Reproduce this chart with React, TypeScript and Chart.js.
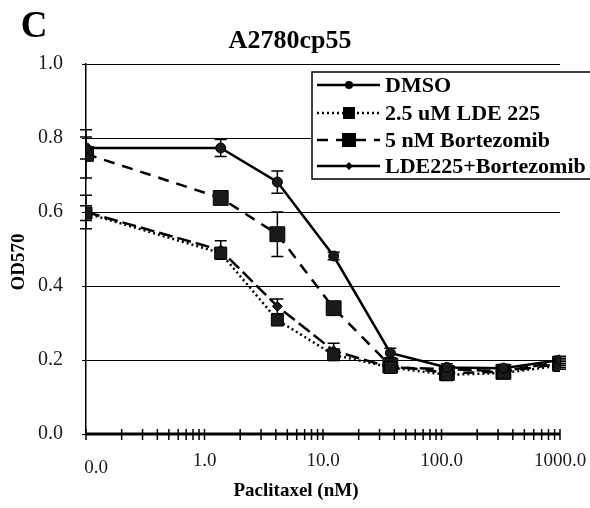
import React, { useEffect, useRef } from "react";
import { Chart, registerables } from "chart.js";

Chart.register(...registerables);

const doses = [0.1, 1.37, 4.12, 12.3, 37, 111, 333, 1000];

const seriesNames = ["DMSO", "2.5 uM LDE 225", "5 nM Bortezomib", "LDE225+Bortezomib"];

const dmso = [0.773, 0.773, 0.681, 0.481, 0.219, 0.18, 0.178, 0.2];
const lde225 = [0.597, 0.489, 0.308, 0.214, 0.18, 0.16, 0.165, 0.185];
const bortezomib = [0.757, 0.638, 0.54, 0.34, 0.185, 0.165, 0.168, 0.19];
const combo = [0.6, 0.497, 0.345, 0.225, 0.18, 0.175, 0.17, 0.195];

const dmsoErr = [0.03, 0.023, 0.03, 0.01, 0.013, 0.01, 0.01, 0.01];
const lde225Err = [0.02, 0.01, 0.01, 0.01, 0.01, 0.01, 0.01, 0.01];
const bortezomibErr = [0.065, 0.01, 0.06, 0.01, 0.01, 0.01, 0.01, 0.01];
const comboErr = [0.045, 0.025, 0.02, 0.02, 0.01, 0.01, 0.01, 0.01];

const xMajor = [0.1, 1, 10, 100, 1000];
const xTickLabels = ["0.0", "1.0", "10.0", "100.0", "1000.0"];

const chartTitle = "A2780cp55";
const panelLetter = "C";
const yTitle = "OD570";
const xTitle = "Paclitaxel (nM)";

const SERIF = "'Liberation Serif', 'Times New Roman', serif";

const styles = [
  { dash: [] as number[], width: 2.5, point: "circle", radius: 5 },
  { dash: [2, 3], width: 2.5, point: "rect", radius: 8.5 },
  { dash: [11, 8], width: 2.5, point: "rect", radius: 10.5 },
  { dash: [14, 5], width: 2.5, point: "rectRot", radius: 5 },
];

const allValues = [dmso, lde225, bortezomib, combo];
const allErrs = [dmsoErr, lde225Err, bortezomibErr, comboErr];

const errorBarPlugin = {
  id: "errorBars",
  beforeDatasetsDraw(chart: any) {
    const ctx = chart.ctx;
    const xs = chart.scales.x;
    const ys = chart.scales.y;
    ctx.save();
    ctx.strokeStyle = "#000";
    ctx.lineWidth = 1.5;
    ctx.setLineDash([]);
    allValues.forEach((vals, i) => {
      vals.forEach((v, j) => {
        const e = allErrs[i][j];
        const x = xs.getPixelForValue(doses[j]);
        const yH = ys.getPixelForValue(v + e);
        const yL = ys.getPixelForValue(v - e);
        ctx.beginPath();
        ctx.moveTo(x, yH);
        ctx.lineTo(x, yL);
        ctx.moveTo(x - 6, yH);
        ctx.lineTo(x + 6, yH);
        ctx.moveTo(x - 6, yL);
        ctx.lineTo(x + 6, yL);
        ctx.stroke();
      });
    });
    ctx.restore();
  },
};

const decorPlugin = {
  id: "decor",
  afterDraw(chart: any) {
    const ctx = chart.ctx;
    const xs = chart.scales.x;
    const area = chart.chartArea;
    ctx.save();
    ctx.strokeStyle = "#000";
    ctx.lineWidth = 3;
    ctx.setLineDash([]);
    ctx.beginPath();
    ctx.moveTo(area.left, area.bottom);
    ctx.lineTo(area.right, area.bottom);
    ctx.stroke();
    ctx.lineWidth = 1.5;
    const ticks: number[] = [];
    for (let k = 0; k < xMajor.length; k++) {
      ticks.push(xMajor[k]);
      if (k < xMajor.length - 1) {
        for (let m = 2; m <= 9; m++) ticks.push(xMajor[k] * m);
      }
    }
    ticks.forEach((t) => {
      const x = xs.getPixelForValue(t);
      ctx.beginPath();
      ctx.moveTo(x, area.bottom - 5);
      ctx.lineTo(x, area.bottom + 6);
      ctx.stroke();
    });
    ctx.fillStyle = "#1a1a1a";
    ctx.font = `19px ${SERIF}`;
    ctx.textAlign = "center";
    ctx.textBaseline = "middle";
    xMajor.forEach((v, i) => {
      const x = xs.getPixelForValue(v);
      if (i === 0) ctx.fillText(xTickLabels[i], x + 10, area.bottom + 34);
      else ctx.fillText(xTickLabels[i], x, area.bottom + 27);
    });
    ctx.fillStyle = "#000";
    ctx.font = `bold 19px ${SERIF}`;
    ctx.fillText(xTitle, 296, 491);
    ctx.save();
    ctx.translate(19, 262);
    ctx.rotate(-Math.PI / 2);
    ctx.fillText(yTitle, 0, 0);
    ctx.restore();
    ctx.font = `bold 26px ${SERIF}`;
    ctx.fillText(chartTitle, 290, 41);
    ctx.font = `bold 37px ${SERIF}`;
    ctx.fillText(panelLetter, 34, 27);
    const lx = 312, ly = 72, lw = 300, lh = 107;
    ctx.fillStyle = "#fff";
    ctx.fillRect(lx, ly, lw, lh);
    ctx.strokeStyle = "#000";
    ctx.lineWidth = 1.5;
    ctx.strokeRect(lx, ly, lw, lh);
    const rows = [85, 113, 140, 166];
    const legendMarkerRadius = [4, 6, 7, 4];
    seriesNames.forEach((name, i) => {
      const y = rows[i];
      const st = styles[i];
      ctx.strokeStyle = "#000";
      ctx.lineWidth = 2.5;
      ctx.setLineDash(i === 3 ? [] : st.dash);
      ctx.beginPath();
      ctx.moveTo(317, y);
      ctx.lineTo(380, y);
      ctx.stroke();
      ctx.setLineDash([]);
      ctx.fillStyle = "#000";
      const r = legendMarkerRadius[i];
      ctx.beginPath();
      if (st.point === "circle") ctx.arc(349, y, r, 0, Math.PI * 2);
      else if (st.point === "rect") ctx.rect(349 - r, y - r, 2 * r, 2 * r);
      else {
        ctx.moveTo(349, y - r);
        ctx.lineTo(349 + r, y);
        ctx.lineTo(349, y + r);
        ctx.lineTo(349 - r, y);
        ctx.closePath();
      }
      ctx.fill();
      ctx.font = `bold 22px ${SERIF}`;
      ctx.textAlign = "left";
      ctx.textBaseline = "middle";
      ctx.fillText(name, 385, y + 1);
    });
    ctx.restore();
  },
};

export default function App() {
  const ref = useRef<HTMLCanvasElement>(null);
  useEffect(() => {
    if (!ref.current) return;
    const datasets = allValues.map((vals, i) => ({
      label: seriesNames[i],
      data: doses.map((d, j) => ({ x: d, y: vals[j] })),
      borderColor: "#000",
      backgroundColor: "#000",
      borderWidth: styles[i].width,
      borderDash: styles[i].dash,
      pointStyle: styles[i].point,
      pointRadius: styles[i].radius,
      pointBackgroundColor: "#1a1a1a",
      pointBorderColor: "#000",
      pointBorderWidth: 1,
      tension: 0,
      fill: false,
    }));
    const chart = new Chart(ref.current, {
      type: "line",
      data: { datasets },
      options: {
        animation: false,
        responsive: false,
        devicePixelRatio: 1,
        layout: { padding: { top: 64, right: 30, left: 0, bottom: 0 } },
        plugins: { legend: { display: false }, tooltip: { enabled: false }, title: { display: false } },
        scales: {
          x: {
            type: "logarithmic",
            min: 0.1,
            max: 1000,
            grid: { display: false },
            border: { display: false },
            ticks: { display: false },
            afterFit: (s: any) => {
              s.height = 74;
            },
          },
          y: {
            min: 0,
            max: 1,
            ticks: {
              stepSize: 0.2,
              callback: (v: any) => Number(v).toFixed(1),
              font: { family: SERIF, size: 20 },
              color: "#1a1a1a",
              padding: 19,
            },
            grid: { color: "#000", lineWidth: 1, tickLength: 4, drawTicks: true },
            border: { display: true, color: "#000", width: 1.5 },
            afterFit: (s: any) => {
              s.width = 86;
            },
          },
        },
      } as any,
      plugins: [errorBarPlugin, decorPlugin],
    });
    return () => chart.destroy();
  }, []);
  return (
    <div style={{ position: "absolute", left: 0, top: 0, width: 590, height: 508, background: "#fff" }}>
      <canvas ref={ref} width={590} height={508} />
    </div>
  );
}
